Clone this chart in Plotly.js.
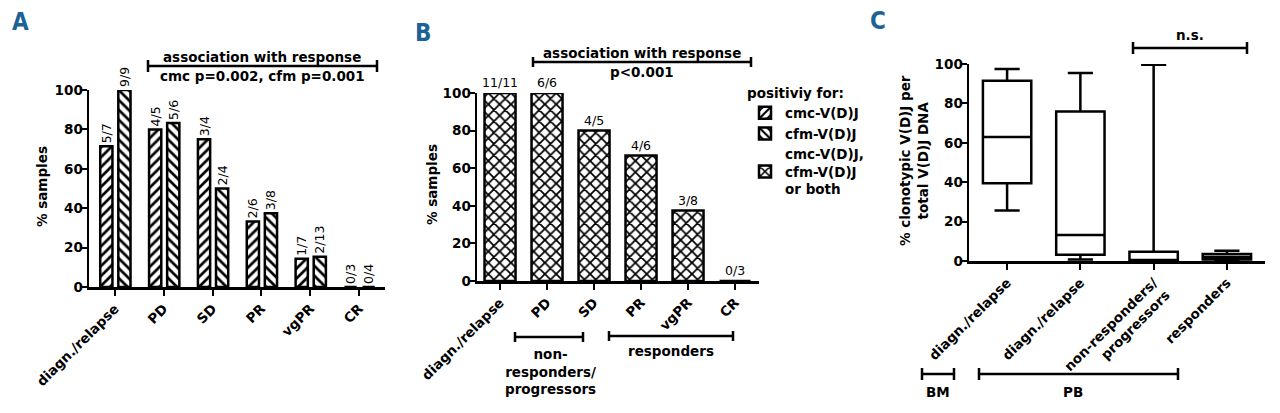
<!DOCTYPE html>
<html><head><meta charset="utf-8">
<script src="https://cdn.plot.ly/plotly-3.0.1.min.js"></script>
<style>html,body{margin:0;padding:0;background:#fff}#chart{width:1280px;height:413px}</style>
</head><body><div id="chart"></div>
<script>
// ---------- data ----------
const stagesA = ['diagn./relapse', 'PD', 'SD', 'PR', 'vgPR', 'CR'];
const cmcPct  = [71.4, 80, 75, 33.3, 14.3, 0];
const cmcFrac = ['5/7', '4/5', '3/4', '2/6', '1/7', '0/3'];
const cfmPct  = [100, 83.3, 50, 37.5, 15.4, 0];
const cfmFrac = ['9/9', '5/6', '2/4', '3/8', '2/13', '0/4'];

const stagesB = ['diagn./relapse', 'PD', 'SD', 'PR', 'vgPR', 'CR'];
const anyPct  = [100, 100, 80, 66.7, 37.5, 0];
const anyFrac = ['11/11', '6/6', '4/5', '4/6', '3/8', '0/3'];

const groupsC = ['diagn./relapse', 'diagn./relapse', 'non-responders/<br>progressors', 'responders'];
const cLower  = [25.6, 0.7, 0, 0];
const cQ1     = [39.5, 3.2, 0, 0.8];
const cMedian = [62.9, 13.2, 0, 2.0];
const cQ3     = [91.5, 75.9, 4.7, 3.6];
const cUpper  = [97.5, 95.4, 99.6, 5.2];

const yTicks = [0, 20, 40, 60, 80, 100];

// ---------- helpers ----------
const W = 1280, H = 413;
const px = v => v / W;
const py = v => 1 - v / H;
const F = 'DejaVu Sans, Liberation Sans, Arial, sans-serif';
const bold = (s) => ({family: F, size: s || 13.5, color: '#000', weight: 'bold'});
const LETTER = {family: 'Liberation Sans Narrow, DejaVu Sans Condensed, sans-serif', size: 24, color: '#1d6295', weight: 'bold'};

function axisBase(extra) {
  return Object.assign({
    showline: true, linecolor: '#000', linewidth: 2.5,
    ticks: 'outside', ticklen: 6, tickwidth: 2, tickcolor: '#000',
    showgrid: false, zeroline: false, fixedrange: true,
    tickfont: bold(13.5)
  }, extra);
}

const barLine = {color: '#000', width: 2.5};
const fracFont = {family: F, size: 12.5, color: '#000'};

const traces = [
  {
    type: 'bar', name: 'cmc-V(D)J', x: stagesA, y: cmcPct, text: cmcFrac,
    xaxis: 'x', yaxis: 'y', width: 0.25, offset: -0.3,
    textposition: 'outside', textangle: -90, constraintext: 'none', cliponaxis: false,
    textfont: fracFont,
    marker: {color: '#fff', line: barLine,
      pattern: {shape: '/', size: 7, solidity: 0.38, fgcolor: '#000', bgcolor: '#fff'}},
    hoverinfo: 'skip'
  },
  {
    type: 'bar', name: 'cfm-V(D)J', x: stagesA, y: cfmPct, text: cfmFrac,
    xaxis: 'x', yaxis: 'y', width: 0.25, offset: 0.07,
    textposition: 'outside', textangle: -90, constraintext: 'none', cliponaxis: false,
    textfont: fracFont,
    marker: {color: '#fff', line: barLine,
      pattern: {shape: '\\', size: 7, solidity: 0.38, fgcolor: '#000', bgcolor: '#fff'}},
    hoverinfo: 'skip'
  },
  {
    type: 'bar', name: 'cmc-V(D)J,<br>cfm-V(D)J<br>or both', x: stagesB, y: anyPct, text: anyFrac,
    xaxis: 'x2', yaxis: 'y2', width: 0.66,
    textposition: 'outside', textangle: 0, constraintext: 'none', cliponaxis: false,
    textfont: fracFont,
    marker: {color: '#fff', line: barLine,
      pattern: {shape: 'x', size: 8, solidity: 0.4, fgcolor: '#000', bgcolor: '#fff'}},
    hoverinfo: 'skip'
  },
  {
    type: 'box', x: groupsC.map((g, i) => i),
    q1: cQ1, median: cMedian, q3: cQ3, lowerfence: cLower, upperfence: cUpper,
    xaxis: 'x3', yaxis: 'y3', width: 0.66, whiskerwidth: 0.52,
    fillcolor: '#fff', line: {color: '#000', width: 2.5},
    boxpoints: false, showlegend: false, hoverinfo: 'skip'
  }
];

// brackets
const shapes = [];
function bracket(x0, x1, y, c) {
  const L = {color: '#000', width: 2.5};
  shapes.push({type: 'line', xref: 'paper', yref: 'paper', x0: px(x0), x1: px(x1), y0: py(y), y1: py(y), line: L});
  shapes.push({type: 'line', xref: 'paper', yref: 'paper', x0: px(x0), x1: px(x0), y0: py(y - c), y1: py(y + c), line: L});
  shapes.push({type: 'line', xref: 'paper', yref: 'paper', x0: px(x1), x1: px(x1), y0: py(y - c), y1: py(y + c), line: L});
}
bracket(148, 377, 66, 6);
bracket(533, 751, 62, 5);
bracket(1133, 1247, 48, 6);
bracket(515, 583, 337, 5);
bracket(609, 733, 336, 5);
bracket(922, 954, 374, 6);
bracket(979, 1178, 374, 6);

const annotations = [];
function ann(text, x, y, font, extra) {
  annotations.push(Object.assign({text: text, x: px(x), y: py(y), xref: 'paper', yref: 'paper',
    showarrow: false, xanchor: 'center', yanchor: 'middle', font: font}, extra || {}));
}
ann('A', 20, 22, LETTER);
ann('B', 423, 33, LETTER);
ann('C', 878, 21, LETTER);
ann('association with response', 262, 57, bold());
ann('cmc p=0.002, cfm p=0.001', 262, 76, bold());
ann('association with response', 642, 53, bold());
ann('p&lt;0.001', 642, 72, bold());
ann('n.s.', 1190, 35, bold());
ann('non-<br>responders/<br>progressors', 550, 371, bold());
ann('responders', 671, 351, bold());
ann('BM', 938, 392, bold());
ann('PB', 1073, 392, bold());
ann('% samples', 42, 187, bold(), {textangle: -90});
ann('% samples', 432, 185, bold(), {textangle: -90});
ann('% clonotypic V(D)J per<br>total V(D)J DNA', 914, 161, bold(), {textangle: -90});

const layout = {
  width: W, height: H, autosize: false,
  margin: {l: 0, r: 0, t: 0, b: 0, pad: 0},
  paper_bgcolor: '#fff', plot_bgcolor: 'rgba(0,0,0,0)',
  barmode: 'overlay',
  font: {family: F, color: '#000'},
  xaxis: axisBase({domain: [px(89), px(385)], anchor: 'y', type: 'category',
    range: [-0.53, 5.53], tickangle: -45}),
  yaxis: axisBase({domain: [py(287), py(90)], anchor: 'x', range: [0, 100], tickvals: yTicks, ticklabelstandoff: -5}),
  xaxis2: axisBase({domain: [px(477), px(759)], anchor: 'y2', type: 'category',
    range: [-0.49, 5.51], tickangle: -45}),
  yaxis2: axisBase({domain: [py(281), py(93)], anchor: 'x2', range: [0, 100], tickvals: yTicks, ticklabelstandoff: -5}),
  xaxis3: axisBase({domain: [px(969), px(1265)], anchor: 'y3', range: [-0.52, 3.52],
    tickvals: groupsC.map((g, i) => i), ticktext: groupsC, tickangle: -45}),
  yaxis3: axisBase({domain: [py(261), py(64)], anchor: 'x3', range: [0, 100], tickvals: yTicks, ticklabelstandoff: -5}),
  showlegend: true,
  legend: {x: px(745), y: py(80), xanchor: 'left', yanchor: 'top',
    title: {text: 'positiviy for:', font: bold()},
    font: bold(), bgcolor: 'rgba(0,0,0,0)', borderwidth: 0, tracegroupgap: 0, itemwidth: 30},
  shapes: shapes,
  annotations: annotations
};

Plotly.newPlot('chart', traces, layout, {staticPlot: true, displayModeBar: false});
</script>
</body></html>
